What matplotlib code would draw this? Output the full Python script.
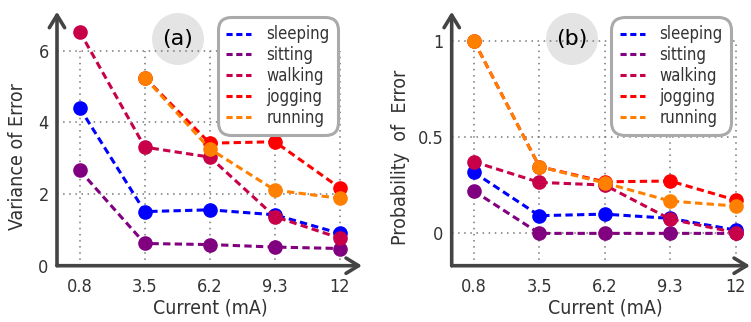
import matplotlib
matplotlib.use("Agg")
import matplotlib.pyplot as plt
import numpy as np
from matplotlib.patches import Ellipse

plt.rcParams['font.family'] = ['DejaVu Sans']
plt.rcParams['font.stretch'] = 'condensed'

currents = ["0.8", "3.5", "6.2", "9.3", "12"]
activities = ["sleeping", "sitting", "walking", "jogging", "running"]
colors = ["#0000ff", "#800080", "#c8004a", "#ff0000", "#ff8000"]

# (a) variance of error
var_sleeping = [4.40, 1.51, 1.56, 1.42, 0.90]
var_sitting = [2.66, 0.62, 0.59, 0.52, 0.48]
var_walking = [6.53, 3.31, 3.03, 1.37, 0.77]
var_jogging = [np.nan, 5.25, 3.42, 3.46, 2.17]
var_running = [np.nan, 5.25, 3.26, 2.11, 1.88]

# (b) probability of error
prob_sleeping = [0.317, 0.092, 0.100, 0.078, 0.017]
prob_sitting = [0.220, 0.0, 0.0, 0.0, 0.0]
prob_walking = [0.372, 0.265, 0.251, 0.074, 0.004]
prob_jogging = [1.0, 0.347, 0.268, 0.272, 0.173]
prob_running = [1.0, 0.347, 0.262, 0.168, 0.142]

var_data = [var_sleeping, var_sitting, var_walking, var_jogging, var_running]
prob_data = [prob_sleeping, prob_sitting, prob_walking, prob_jogging, prob_running]

W, H = 751, 322
txt_col = "#333333"
ax_col = "#444444"

fig = plt.figure(figsize=(W / 100, H / 100), dpi=100)


def px_axes(x0, x1, ytop, ybot):
    return fig.add_axes([x0 / W, 1 - ybot / H, (x1 - x0) / W, (ybot - ytop) / H])


def draw_panel(ax, data, yticks, ylabels, ylim, xlim, grid_top, tag, tag_xy, leg_anchor):
    xs = np.arange(len(currents))
    for vals, name, c in zip(data, activities, colors):
        ax.plot(xs, vals, color=c, lw=2.2, ls=(0, (2.4, 1.4)), marker='o',
                markersize=9.5, label=name, zorder=3)
    ax.set_xlim(*xlim)
    ax.set_ylim(*ylim)
    # dotted grid limited to the tick range
    for yt in yticks:
        ax.plot([xlim[0], xs[-1]], [yt, yt], color="#777777", lw=1.1, ls=(0, (1, 3)), zorder=1)
    for xt in xs:
        ax.plot([xt, xt], [ylim[0], grid_top], color="#777777", lw=1.1, ls=(0, (1, 3)), zorder=1)
    ax.set_xticks(xs)
    ax.set_xticklabels(currents)
    ax.set_yticks(yticks)
    ax.set_yticklabels(ylabels)
    ax.tick_params(length=0, labelsize=13, colors=txt_col)
    ax.tick_params(axis='x', pad=9)
    ax.tick_params(axis='y', pad=6)
    for s in ax.spines.values():
        s.set_visible(False)
    ax.patch.set_visible(False)
    arrow = dict(arrowstyle='->,head_length=0.9,head_width=0.55', lw=2.6, color=ax_col,
                 shrinkA=0, shrinkB=0)
    ax.annotate('', xy=(0, 1), xytext=(0, 0), xycoords='axes fraction', arrowprops=arrow)
    ax.annotate('', xy=(1, 0), xytext=(0, 0), xycoords='axes fraction', arrowprops=arrow)

    handles = [plt.Line2D([], [], color=c, lw=2.2, ls=(0, (2.0, 1.2))) for c in colors]
    leg = ax.legend(handles, activities, loc='upper left', bbox_to_anchor=leg_anchor,
                    borderaxespad=0, fontsize=12, handlelength=1.5, handletextpad=0.9,
                    labelspacing=0.17, borderpad=0.5, fancybox=True, framealpha=1)
    fr = leg.get_frame()
    fr.set_edgecolor("#aaaaaa")
    fr.set_linewidth(2.2)
    fr.set_boxstyle('round,pad=0,rounding_size=0.8')
    for t in leg.get_texts():
        t.set_color(txt_col)
    leg.set_zorder(5)

    cx, cy = tag_xy
    fig.add_artist(Ellipse((cx / W, 1 - cy / H), 52 / W, 52 / H, transform=fig.transFigure,
                           facecolor="#e4e4e4", edgecolor='none', zorder=0))
    fig.text(cx / W, 1 - cy / H, tag, ha='center', va='center', fontsize=16,
             family='DejaVu Sans', stretch='normal', color='black')


ax1 = px_axes(57, 362, 11.7, 265.7)
draw_panel(ax1, var_data, [0, 2, 4, 6], ["0", "2", "4", "6"], (0, 7.09), (-0.35, 4.34), 6,
           "(a)", (178, 39), (0.528, 0.979))

ax2 = px_axes(451.7, 750, 11.7, 265.7)
draw_panel(ax2, prob_data, [0, 0.5, 1], ["0", "0.5", "1"], (-0.168, 1.152), (-0.34, 4.22), 1.0,
           "(b)", (572, 39), (0.535, 0.979))

fig.text(18 / W, 1 - 157 / H, "Variance of Error", rotation=90, ha='center', va='center',
         fontsize=14, color=txt_col)
fig.text(210 / W, 1 - 308 / H, "Current (mA)", ha='center', va='center',
         fontsize=14, color=txt_col)
fig.text(400 / W, 1 - 157 / H, "Probability  of  Error", rotation=90, ha='center', va='center',
         fontsize=14, color=txt_col)
fig.text(605 / W, 1 - 308 / H, "Current (mA)", ha='center', va='center',
         fontsize=14, color=txt_col)

fig.savefig("out.png", dpi=100)
